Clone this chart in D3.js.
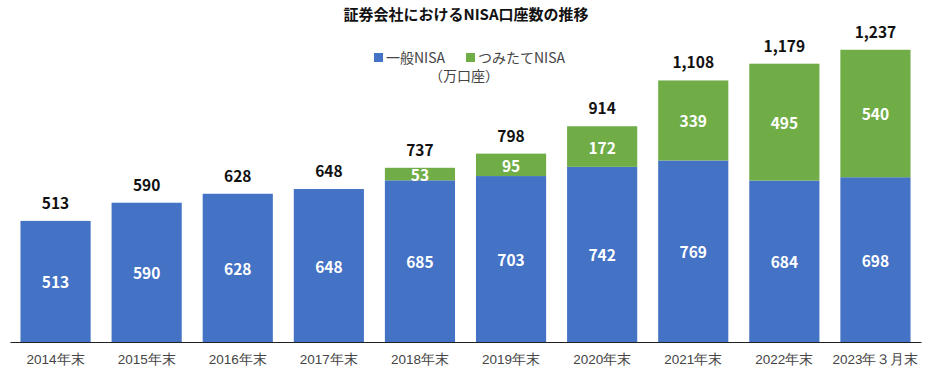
<!DOCTYPE html>
<html lang="ja">
<head>
  <meta charset="UTF-8">
  <title>証券会社におけるNISA口座数の推移</title>
  <style>
    body { margin: 0; background: #fff; }
    svg { display: block; font-family: "Noto Sans CJK JP", "Noto Sans", sans-serif; }
    .title { font-size: 15px; font-weight: bold; fill: #111; }
    .legend, .unit { font-size: 14px; fill: #444; }
    .total { font-size: 15.5px; font-weight: bold; fill: #111; }
    .inner { font-size: 15.5px; font-weight: bold; fill: #fff; }
    .xlab { font-size: 13.5px; fill: #444; }
  </style>
</head>
<body>
  <script src="https://cdn.jsdelivr.net/npm/d3@7"></script>
  <script>
    const width = 936, height = 376;
    const categories = ['2014年末', '2015年末', '2016年末', '2017年末', '2018年末', '2019年末', '2020年末', '2021年末', '2022年末', '2023年３月末'];
    const ippan = [513, 590, 628, 648, 685, 703, 742, 769, 684, 698];
    const tsumitate = [0, 0, 0, 0, 53, 95, 172, 339, 495, 540];
    const totals = [513, 590, 628, 648, 737, 798, 914, 1108, 1179, 1237];
    const seriesNames = ['一般NISA', 'つみたてNISA'];
    const colors = ['#4472C4', '#70AD47'];

    const rows = categories.map((c, i) => ({ cat: c, ippan: ippan[i], tsumitate: tsumitate[i], total: totals[i] }));
    const stack = d3.stack().keys(['ippan', 'tsumitate'])(rows);

    const x = d3.scaleBand().domain(categories).range([10, 921]).paddingInner(0.23).paddingOuter(0.115);
    const y = d3.scaleLinear().domain([0, 1237]).range([342, 50]);

    const svg = d3.select('body').append('svg').attr('width', width).attr('height', height);

    svg.append('text').attr('class', 'title')
      .attr('x', 466).attr('y', 20).attr('text-anchor', 'middle')
      .text('証券会社におけるNISA口座数の推移');

    // 凡例
    const legendX = [374, 466];
    seriesNames.forEach((name, i) => {
      svg.append('rect').attr('x', legendX[i]).attr('y', 53).attr('width', 9).attr('height', 9).attr('fill', colors[i]);
      svg.append('text').attr('class', 'legend').attr('x', legendX[i] + 12).attr('y', 63).text(name);
    });
    svg.append('text').attr('class', 'unit').attr('x', 464).attr('y', 81).attr('text-anchor', 'middle').text('（万口座）');

    const layer = svg.selectAll('g.layer').data(stack).enter().append('g')
      .attr('class', 'layer').attr('fill', (d, i) => colors[i]);

    layer.selectAll('rect').data(d => d).enter().append('rect')
      .attr('x', d => x(d.data.cat))
      .attr('width', x.bandwidth())
      .attr('y', d => y(d[1]))
      .attr('height', d => y(d[0]) - y(d[1]));

    layer.selectAll('text').data(d => d.filter(p => p[1] - p[0] > 0)).enter().append('text')
      .attr('class', 'inner')
      .attr('text-anchor', 'middle')
      .attr('dominant-baseline', 'central')
      .attr('x', d => x(d.data.cat) + x.bandwidth() / 2)
      .attr('y', d => (y(d[0]) + y(d[1])) / 2)
      .text(d => d3.format(',')(d[1] - d[0]));

    svg.selectAll('text.total').data(rows).enter().append('text')
      .attr('class', 'total')
      .attr('text-anchor', 'middle')
      .attr('x', d => x(d.cat) + x.bandwidth() / 2)
      .attr('y', d => y(d.total) - 12)
      .text(d => d3.format(',')(d.total));

    // 横軸
    const axis = svg.append('g').attr('transform', 'translate(0,342)')
      .call(d3.axisBottom(x).tickSize(0).tickPadding(12));
    axis.select('.domain').attr('stroke', '#222').attr('stroke-width', 1.2);
    axis.selectAll('text').attr('class', 'xlab').attr('font-size', null).attr('font-family', null).attr('fill', null);
  </script>
</body>
</html>
